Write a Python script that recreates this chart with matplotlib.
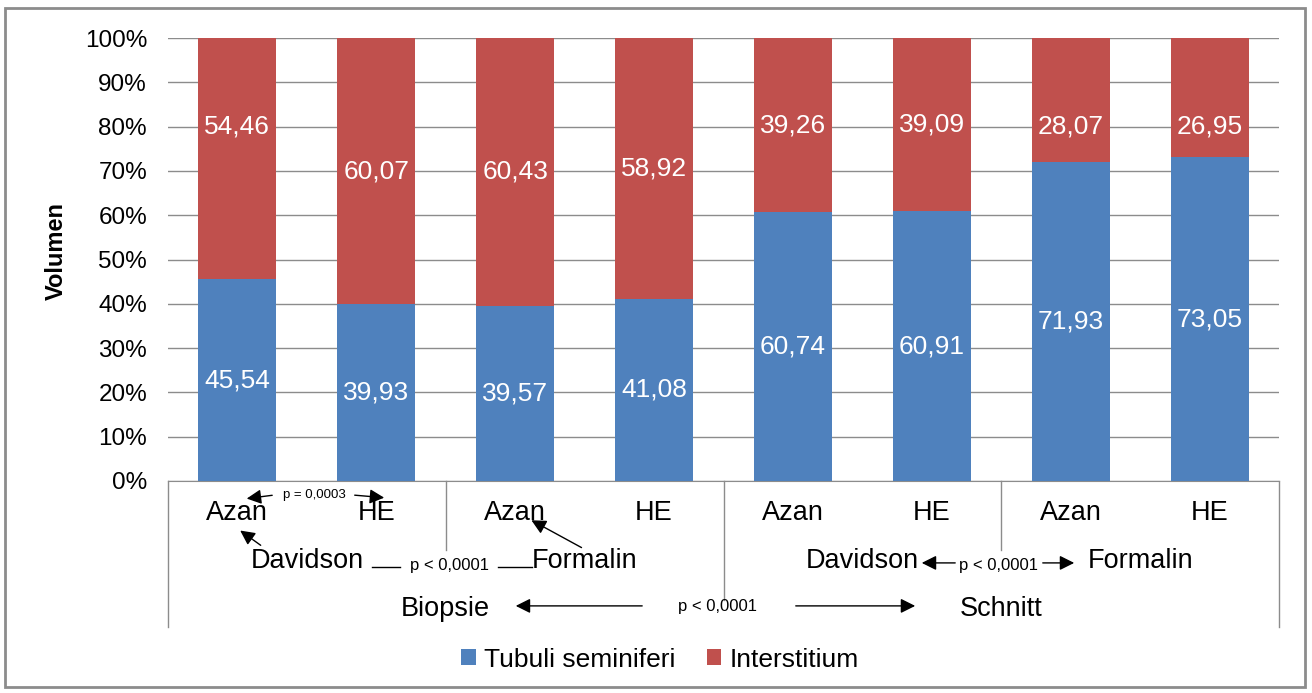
import numpy as np
import matplotlib
matplotlib.use("Agg")
import matplotlib.pyplot as plt
from matplotlib.patches import Rectangle

plt.rcParams['font.family'] = ['Liberation Sans', 'DejaVu Sans']

stains = ["Azan", "HE", "Azan", "HE", "Azan", "HE", "Azan", "HE"]
fixatives = ["Davidson", "Formalin", "Davidson", "Formalin"]
methods = ["Biopsie", "Schnitt"]
tubuli = [45.54, 39.93, 39.57, 41.08, 60.74, 60.91, 71.93, 73.05]
interstitium = [54.46, 60.07, 60.43, 58.92, 39.26, 39.09, 28.07, 26.95]
# red labels that were moved by hand in the original
red_label_y = {0: 80, 6: 80, 7: 80}

blue = "#4F81BD"
red = "#C0504D"
gray = "#8c8c8c"

fig = plt.figure(figsize=(13.12, 6.93), dpi=100)
fig.patches.append(Rectangle((0.004, 0.008), 0.991, 0.98, transform=fig.transFigure,
                             fill=False, edgecolor=gray, linewidth=2))
ax = fig.add_axes([0.128, 0.306, 0.847, 0.639])

x = np.arange(len(stains))
ax.bar(x, tubuli, width=0.56, color=blue, zorder=3, label="Tubuli seminiferi")
ax.bar(x, interstitium, width=0.56, bottom=tubuli, color=red, zorder=3, label="Interstitium")

for i in range(len(x)):
    ax.text(x[i], tubuli[i] / 2, f"{tubuli[i]:.2f}".replace(".", ","), color="white",
            ha="center", va="center", fontsize=19, zorder=4)
    yr = red_label_y.get(i, tubuli[i] + interstitium[i] / 2)
    ax.text(x[i], yr, f"{interstitium[i]:.2f}".replace(".", ","), color="white",
            ha="center", va="center", fontsize=19, zorder=4)

ax.set_xlim(-0.5, 7.5)
ax.set_ylim(0, 100)
ax.set_yticks(np.arange(0, 101, 10))
ax.set_yticklabels([f"{v}%" for v in range(0, 101, 10)], fontsize=17.5)
ax.yaxis.grid(True, color=gray, linewidth=1, zorder=0)
ax.set_xticks([])
for s in ["top", "right", "left"]:
    ax.spines[s].set_visible(False)
ax.spines["bottom"].set_color(gray)
ax.tick_params(axis="y", length=0, pad=15)
ax.text(-0.1, 0.52, "Volumen", transform=ax.transAxes, rotation=90, ha="center",
        va="center", fontsize=17, fontweight="bold")


def py(p):
    # pixel row -> data y
    return (481 - p) / 4.43


def px(p):
    return (p - 168) / 138.9 - 0.5


# category separators
ax.plot([-0.5, -0.5], [0, py(627)], color=gray, lw=1, clip_on=False)
ax.plot([7.5, 7.5], [0, py(627)], color=gray, lw=1, clip_on=False)
ax.plot([1.5, 1.5], [0, py(550)], color=gray, lw=1, clip_on=False)
ax.plot([5.5, 5.5], [0, py(550)], color=gray, lw=1, clip_on=False)
ax.plot([3.5, 3.5], [0, py(600)], color=gray, lw=1, clip_on=False)

for i, s in enumerate(stains):
    ax.text(x[i], py(513), s, ha="center", va="center", fontsize=19.5, clip_on=False)
for j, f in enumerate(fixatives):
    ax.text(2 * j + 0.5, py(561), f, ha="center", va="center", fontsize=19.5, clip_on=False)
for k, m in enumerate(methods):
    ax.text(4 * k + 1.5, py(609), m, ha="center", va="center", fontsize=19.5, clip_on=False)

arrow = dict(arrowstyle="-|>", color="black", lw=1, mutation_scale=22)
# p = 0,0003 between Azan and HE (Davidson, Biopsie)
ax.text(px(314), py(495), "p = 0,0003", fontsize=9.5, ha="center", va="center")
ax.annotate("", xy=(px(244), py(499)), xytext=(px(275), py(495)), arrowprops=arrow,
            annotation_clip=False)
ax.annotate("", xy=(px(387), py(498)), xytext=(px(352), py(495)), arrowprops=arrow,
            annotation_clip=False)
# Davidson / Formalin arrows to Azan
ax.annotate("", xy=(px(238), py(529)), xytext=(px(263), py(547)), arrowprops=arrow,
            annotation_clip=False)
ax.annotate("", xy=(px(529), py(519)), xytext=(px(584), py(549)), arrowprops=arrow,
            annotation_clip=False)
# Davidson -- p < 0,0001 -- Formalin
ax.plot([px(372), px(400)], [py(567), py(567)], color="black", lw=1, clip_on=False)
ax.plot([px(498), px(532)], [py(567), py(567)], color="black", lw=1, clip_on=False)
ax.text(px(450), py(566), "p < 0,0001", fontsize=12, ha="center", va="center")
# Davidson <- p -> Formalin (Schnitt)
ax.annotate("", xy=(px(919), py(563)), xytext=(px(958), py(563)), arrowprops=arrow,
            annotation_clip=False)
ax.annotate("", xy=(px(1077), py(563)), xytext=(px(1040), py(563)), arrowprops=arrow,
            annotation_clip=False)
ax.text(px(999), py(566), "p < 0,0001", fontsize=12, ha="center", va="center")
# Biopsie <- p -> Schnitt
ax.annotate("", xy=(px(513), py(606)), xytext=(px(645), py(606)), arrowprops=arrow,
            annotation_clip=False)
ax.annotate("", xy=(px(918), py(606)), xytext=(px(793), py(606)), arrowprops=arrow,
            annotation_clip=False)
ax.text(px(718), py(607), "p < 0,0001", fontsize=12, ha="center", va="center")

leg = fig.legend(loc="center", bbox_to_anchor=(0.503, 0.048), ncol=2, frameon=False,
                 fontsize=19, handlelength=0.55, handleheight=0.55, handletextpad=0.3,
                 columnspacing=1.2)

fig.savefig("out.png", dpi=100)
